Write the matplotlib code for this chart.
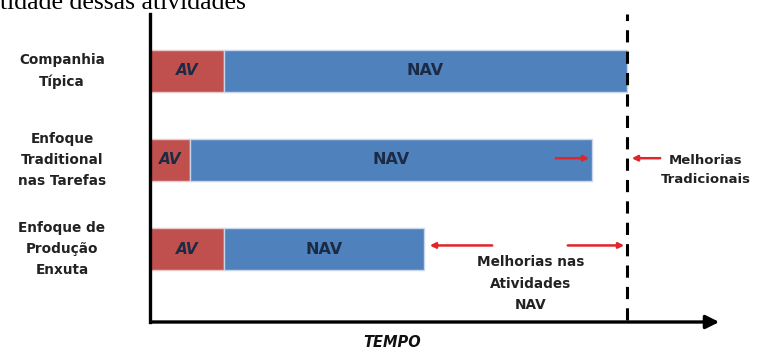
import matplotlib
matplotlib.use("Agg")
import matplotlib.pyplot as plt

# time spent per approach: value-adding (AV) and non-value-adding (NAV)
approaches = ["Companhia\nTípica", "Enfoque\nTraditional\nnas Tarefas", "Enfoque de\nProdução\nEnxuta"]
av_time = [74, 40, 74]
nav_time = [403, 402, 200]
baseline_total = av_time[0] + nav_time[0]

RED = "#c0504d"
BLUE = "#4f81bd"
ARROW = "#e0262b"
LABEL = "#1c2b45"
FONT = "DejaVu Sans"

fig = plt.figure(figsize=(7.61, 3.52), dpi=100)
ax = fig.add_axes([150 / 761, 30 / 352, 572 / 761, 308 / 352])
ax.set_xlim(0, 572)
ax.set_ylim(-0.82, 2.64)

rows = [2, 1, 0]
for y, av, nav, name in zip(rows, av_time, nav_time, approaches):
    ax.barh(y, av, height=0.47, left=0, color=RED, edgecolor="#e9c9c8", linewidth=1)
    ax.barh(y, nav, height=0.47, left=av, color=BLUE, edgecolor="#c9d6ea", linewidth=1)
    ax.text(av / 2, y, "AV", ha="center", va="center", fontsize=11, fontweight="bold",
            style="italic", color=LABEL, family=FONT)
    ax.text(av + nav / 2, y, "NAV", ha="center", va="center", fontsize=11.5,
            fontweight="bold", color=LABEL, family=FONT)
    ax.text(-88, y, name, ha="center", va="center", fontsize=9.8, fontweight="bold",
            color="#222222", family=FONT, linespacing=1.65)

# dashed reference line at the end of the typical company
ax.plot([baseline_total, baseline_total], [-0.8, 2.64], color="black", linewidth=2.2,
        linestyle=(0, (4, 3)), solid_capstyle="butt")

arrow = dict(arrowstyle="-|>", color=ARROW, linewidth=1.8, mutation_scale=8)

# traditional improvements
end2 = av_time[1] + nav_time[1]
ax.annotate("", xy=(end2, 1.02), xytext=(end2 - 39, 1.02), arrowprops=arrow)
ax.annotate("", xy=(baseline_total + 2, 1.02), xytext=(baseline_total + 36, 1.02), arrowprops=arrow)
ax.text(556, 0.89, "Melhorias\nTradicionais", ha="center", va="center", fontsize=9.5,
        fontweight="bold", color="#222222", family=FONT, linespacing=1.65)

# lean improvements
end3 = av_time[2] + nav_time[2]
ax.annotate("", xy=(end3 + 3, 0.04), xytext=(end3 + 71, 0.04), arrowprops=arrow)
ax.annotate("", xy=(baseline_total, 0.04), xytext=(baseline_total - 62, 0.04), arrowprops=arrow)
ax.text(381, -0.39, "Melhorias nas\nAtividades\nNAV", ha="center", va="center", fontsize=9.8,
        fontweight="bold", color="#222222", family=FONT, linespacing=1.7)

# axes: thick left spine, arrowed time axis
for side in ["top", "right", "bottom"]:
    ax.spines[side].set_visible(False)
ax.spines["left"].set_linewidth(2.4)
ax.set_xticks([])
ax.set_yticks([])
ax.annotate("", xy=(1.0, 0), xytext=(-0.003, 0), xycoords="axes fraction",
            arrowprops=dict(arrowstyle="-|>", color="black", linewidth=2.4, mutation_scale=20))
ax.text(242, -0.82 - 20 / 89, "TEMPO", ha="center", va="center", fontsize=10.5,
        fontweight="bold", style="italic", color="#111111", family=FONT)

fig.text(0.0, 1 - 9 / 352, "tidade dessas atividades", ha="left", va="baseline",
         fontsize=18.5, family="Liberation Serif", color="black")

fig.savefig("out.png", dpi=100)
